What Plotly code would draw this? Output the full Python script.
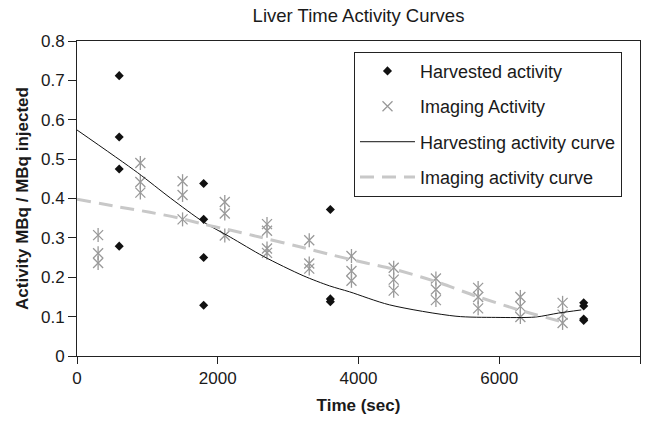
import plotly.graph_objects as go

# ---- data ----
harvest_time = [600, 600, 600, 600, 1800, 1800, 1800, 1800, 3600, 3600, 3600, 7200, 7200, 7200, 7200]
harvest_val = [0.712, 0.556, 0.475, 0.279, 0.438, 0.347, 0.250, 0.129, 0.372, 0.145, 0.138, 0.135, 0.127, 0.094, 0.090]

imaging_time = [300, 300, 300, 900, 900, 900, 1500, 1500, 1500, 2100, 2100, 2100,
                2700, 2700, 2700, 2700, 3300, 3300, 3300, 3900, 3900, 3900,
                4500, 4500, 4500, 5100, 5100, 5100, 5700, 5700, 5700,
                6300, 6300, 6300, 6900, 6900, 6900]
imaging_val = [0.307, 0.261, 0.236, 0.490, 0.442, 0.415, 0.444, 0.409, 0.347, 0.391, 0.362, 0.306,
               0.335, 0.318, 0.273, 0.262, 0.294, 0.235, 0.222, 0.254, 0.216, 0.191,
               0.224, 0.194, 0.166, 0.197, 0.169, 0.142, 0.173, 0.150, 0.121,
               0.150, 0.126, 0.099, 0.135, 0.105, 0.084]

harvest_curve_t = [0, 858, 1329, 1800, 2177, 2650, 3213, 3590, 3873, 4438, 5385, 5950, 6516, 6841, 7166]
harvest_curve_v = [0.574, 0.466, 0.401, 0.340, 0.302, 0.253, 0.204, 0.178, 0.163, 0.130, 0.101, 0.098, 0.099, 0.109, 0.117]

imaging_curve_t = [0, 612, 1036, 1458, 1790, 2120, 2504, 3307, 3590, 4109, 4470, 5084, 5673, 6261, 6873]
imaging_curve_v = [0.398, 0.378, 0.365, 0.350, 0.335, 0.322, 0.306, 0.271, 0.258, 0.236, 0.222, 0.190, 0.152, 0.118, 0.088]

x_ticks = [0, 2000, 4000, 6000, 8000]
y_ticks = [0, 0.1, 0.2, 0.3, 0.4, 0.5, 0.6, 0.7, 0.8]

FONT = "Liberation Sans, Arial, Helvetica, sans-serif"
TXT = "#1a1a1a"
STAR = "#9a9a9a"

fig = go.Figure()

fig.add_trace(go.Scatter(
    x=harvest_time, y=harvest_val, mode="markers", name="Harvested activity",
    legendgroup="g1",
    marker=dict(symbol="diamond", size=7, color="#111111", line=dict(width=0)),
))
fig.add_trace(go.Scatter(
    x=imaging_time, y=imaging_val, mode="markers", name="Imaging Activity",
    legendgroup="g2",
    marker=dict(symbol="x-thin-open", size=10, color=STAR, line=dict(width=1.3, color=STAR)),
))
fig.add_trace(go.Scatter(
    x=imaging_time, y=imaging_val, mode="markers", name="Imaging Activity",
    legendgroup="g2", showlegend=False,
    marker=dict(symbol="line-ns-open", size=10, color=STAR, line=dict(width=1.3, color=STAR)),
))
fig.add_trace(go.Scatter(
    x=harvest_curve_t, y=harvest_curve_v, mode="lines", name="Harvesting activity curve",
    legendgroup="g3",
    line=dict(color="#111111", width=1, shape="spline", smoothing=0.8),
))
fig.add_trace(go.Scatter(
    x=imaging_curve_t, y=imaging_curve_v, mode="lines", name="Imaging activity curve",
    legendgroup="g4",
    line=dict(color="#c8c8c8", width=3, shape="spline", smoothing=0.8, dash="14px,8px"),
))

fig.update_layout(
    width=658, height=423,
    margin=dict(l=77, r=18, t=41, b=57),
    paper_bgcolor="white", plot_bgcolor="white",
    font=dict(family=FONT, size=17, color=TXT),
    title=dict(text="Liver Time Activity Curves", x=0.5, xref="paper",
               y=1 - 16 / 423, yref="container", yanchor="middle", xanchor="center",
               font=dict(size=18.5, color=TXT)),
    showlegend=True,
    legend=dict(x=0.492, y=0.966, xanchor="left", yanchor="top",
                bordercolor="#222222", borderwidth=1, bgcolor="white",
                font=dict(size=18, color=TXT), traceorder="grouped",
                tracegroupgap=9, itemwidth=55),
    xaxis=dict(range=[0, 8000], tickvals=x_ticks, ticktext=[str(v) for v in x_ticks],
               ticks="outside", ticklen=7, tickcolor="#222222",
               showline=True, linecolor="#222222", linewidth=1, mirror=True,
               showgrid=False, zeroline=False,
               title=dict(text="<b>Time (sec)</b>", standoff=11, font=dict(size=17))),
    yaxis=dict(range=[0, 0.8], tickvals=y_ticks, ticktext=[("%g" % v) for v in y_ticks],
               ticks="outside", ticklen=8, tickcolor="#222222",
               showline=True, linecolor="#222222", linewidth=1, mirror=True,
               showgrid=False, zeroline=False,
               title=dict(text="<b>Activity MBq / MBq injected</b>", standoff=8, font=dict(size=17))),
)

fig.write_html("out.html")
